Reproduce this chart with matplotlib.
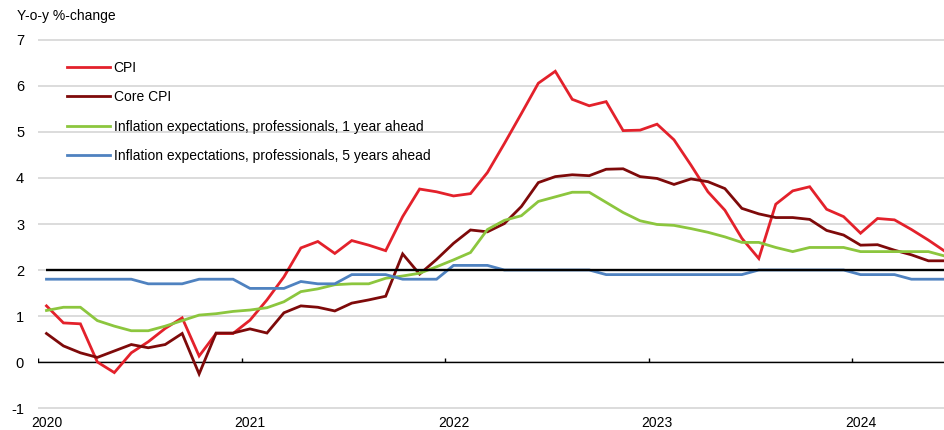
import matplotlib
matplotlib.use("Agg")
import matplotlib.pyplot as plt
import numpy as np

plt.rcParams['font.family'] = ['Liberation Sans', 'DejaVu Sans']

# monthly, Jan 2020 .. Jun 2024
cpi = [1.22, 0.85, 0.83, 0.00, -0.23, 0.20, 0.44, 0.73, 0.96, 0.13, 0.62, 0.62,
       0.91, 1.35, 1.85, 2.48, 2.62, 2.36, 2.64, 2.54, 2.42, 3.16, 3.76, 3.70,
       3.61, 3.66, 4.12, 4.75, 5.40, 6.06, 6.32, 5.71, 5.57, 5.66, 5.03, 5.04,
       5.17, 4.83, 4.28, 3.70, 3.30, 2.69, 2.25, 3.43, 3.72, 3.81, 3.32, 3.16,
       2.80, 3.12, 3.09, 2.88, 2.65, 2.40]
core = [0.62, 0.35, 0.20, 0.10, 0.24, 0.38, 0.31, 0.38, 0.62, -0.26, 0.63, 0.63,
        0.72, 0.63, 1.07, 1.22, 1.19, 1.11, 1.28, 1.35, 1.43, 2.35, 1.91, 2.23,
        2.58, 2.87, 2.83, 3.01, 3.38, 3.90, 4.03, 4.07, 4.05, 4.19, 4.20, 4.03,
        3.99, 3.86, 3.98, 3.92, 3.77, 3.34, 3.22, 3.14, 3.14, 3.10, 2.86, 2.76,
        2.54, 2.55, 2.43, 2.33, 2.20, 2.20]
exp_1y = [1.12, 1.19, 1.19, 0.90, 0.78, 0.68, 0.68, 0.78, 0.90, 1.02, 1.05, 1.10,
          1.13, 1.18, 1.31, 1.53, 1.59, 1.68, 1.70, 1.70, 1.82, 1.87, 1.93, 2.07,
          2.22, 2.38, 2.88, 3.08, 3.18, 3.49, 3.59, 3.69, 3.69, 3.47, 3.25, 3.07,
          2.99, 2.97, 2.90, 2.82, 2.72, 2.60, 2.60, 2.49, 2.40, 2.49, 2.49, 2.49,
          2.40, 2.40, 2.40, 2.40, 2.40, 2.30]
exp_5y = [1.8, 1.8, 1.8, 1.8, 1.8, 1.8, 1.7, 1.7, 1.7, 1.8, 1.8, 1.8,
          1.6, 1.6, 1.6, 1.75, 1.7, 1.7, 1.9, 1.9, 1.9, 1.8, 1.8, 1.8,
          2.1, 2.1, 2.1, 2.0, 2.0, 2.0, 2.0, 2.0, 2.0, 1.9, 1.9, 1.9,
          1.9, 1.9, 1.9, 1.9, 1.9, 1.9, 2.0, 2.0, 2.0, 2.0, 2.0, 2.0,
          1.9, 1.9, 1.9, 1.8, 1.8, 1.8]
target = 2.0
years = ['2020', '2021', '2022', '2023', '2024']
labels = ['CPI', 'Core CPI',
          'Inflation expectations, professionals, 1 year ahead',
          'Inflation expectations, professionals, 5 years ahead']
colors = ['#e3212b', '#7e0a0a', '#8cc63e', '#4f82c0']

n = len(cpi)
x = np.arange(n) + 0.5  # category centres, Excel style

W, H = 944, 430
fig = plt.figure(figsize=(W / 100, H / 100), dpi=100)
ax = fig.add_axes([38 / W, 1 - 409.4 / H, (W - 38) / W, (409.4 - 38.6) / H])
ax.set_xlim(0, (W - 38) / 16.96)
ax.set_ylim(-1.03, 7.03)

for s in ax.spines.values():
    s.set_visible(False)

ax.set_yticks(range(-1, 8))
ax.set_yticklabels([str(v) for v in range(-1, 8)], fontsize=10.5)
ax.tick_params(axis='y', length=0, pad=10)
ax.grid(axis='y', color='#d9d9d9', lw=1.3)
ax.set_axisbelow(True)

ax.set_xticks([12 * k + 0.5 for k in range(len(years))])
ax.set_xticklabels(years, fontsize=10)
ax.tick_params(axis='x', length=0, pad=5)

# zero line with year ticks
ax.axhline(0, color='black', lw=1.0, zorder=2)
ax.vlines([12 * k for k in range(len(years))], 0, 0.09, color='black', lw=1.0, zorder=2)

series = [cpi, core, exp_1y, exp_5y]
for i, (ys, lab, c) in enumerate(zip(series, labels, colors)):
    ax.plot(x, ys, color=c, lw=2.0, label=lab, zorder=3 + i, solid_joinstyle='miter')

ax.hlines(target, x[0], x[-1], color='black', lw=1.7, zorder=8)

leg = ax.legend(loc='upper left', bbox_to_anchor=(67 / W, 1 - 61 / H), bbox_transform=fig.transFigure,
                frameon=False, fontsize=10, handlelength=3.1, handletextpad=0.25,
                labelspacing=1.1, borderpad=0, borderaxespad=0)

fig.text(17 / W, 1 - 16 / H, 'Y-o-y %-change', fontsize=10, va='center', ha='left')

fig.savefig('out.png', dpi=100)
